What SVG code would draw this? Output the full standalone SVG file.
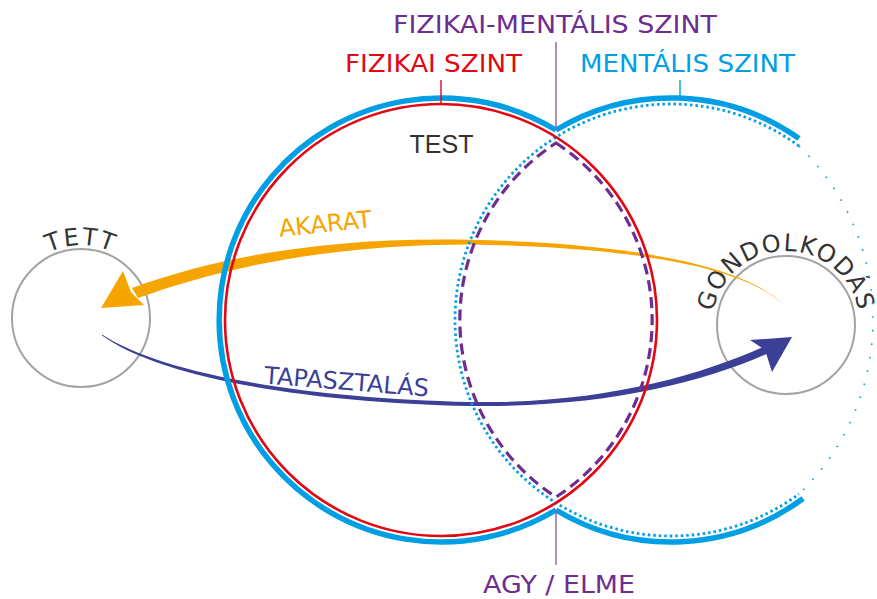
<svg xmlns="http://www.w3.org/2000/svg" width="877" height="599" viewBox="0 0 877 599">
<style>
.lbl{font-family:"DejaVu Sans","Verdana",sans-serif;font-size:25px;}
.small{font-family:"DejaVu Sans","Verdana",sans-serif;font-size:24px;}
.node{fill:none;stroke:#A3A3A3;stroke-width:2;}
.thick{fill:none;stroke:#009FE3;stroke-width:5.5;}
.tick{stroke-width:1.4;}
</style>
<defs>
<path id="tettArc" d="M8,318 A73,73 0 0,1 154,318"/>
<path id="gondArc" d="M712,325 A74,74 0 0,1 860,325"/>
</defs>
<rect width="877" height="599" fill="#ffffff"/>

<g id="tett">
<circle class="node" cx="81" cy="318" r="69"/>
<text class="small" fill="#333333" letter-spacing="2"><textPath href="#tettArc" startOffset="50%" text-anchor="middle">TETT</textPath></text>
</g>

<g id="gondolkodas">
<circle class="node" cx="786" cy="325" r="69"/>
<text class="small" fill="#333333" letter-spacing="1.5"><textPath href="#gondArc" startOffset="50%" text-anchor="middle">GONDOLKODÁS</textPath></text>
</g>

<g id="connectors">
<g id="akarat">
<path fill="#F6A500" d="M790,312 C760,270.5 650,243.5 470,239.8 C330,236.5 218,256.5 132,288 L138,298 C222,267.5 330,244.5 470,244.5 C650,247 760,271.5 790,312 Z"/>
<polygon fill="#F6A500" points="101,308 123,271 131,292 144,305"/>
<text class="small" fill="#F6A500" x="326" y="232" text-anchor="middle" transform="rotate(-6 326 232)">AKARAT</text>
</g>
<g id="tapasztalas">
<path fill="#3B3F95" d="M102,334.5 C160,373 300,398 470,402 C600,404 698,376.5 766.4,345.4 L769.6,352.6 C702,383.5 600,408 470,406 C300,402 160,377 102,335.5 Z"/>
<polygon fill="#3B3F95" points="792,337 750,340 765,350 772,372"/>
<text class="small" fill="#3B3F95" x="346" y="390" text-anchor="middle" transform="rotate(4.5 346 390)">TAPASZTALÁS</text>
</g>
</g>

<g id="mentalis">
<path class="thick" d="M556,130 A222,222 0 0,1 799,138.6"/>
<path class="thick" d="M556,510 A222,222 0 0,0 803,498.5"/>
<path fill="none" stroke="#009FE3" stroke-width="2.8" stroke-dasharray="2.5 3" d="M799,146 A216,216 0 1,0 799,494"/>
<path fill="none" stroke="#009FE3" stroke-width="1.6" stroke-dasharray="1.6 12" d="M799,146 A241.6,241.6 0 0,1 799,494"/>
<line class="tick" x1="680" y1="80" x2="680" y2="98" stroke="#009FE3"/>
<text class="lbl" fill="#009FE3" x="580" y="72" textLength="215" lengthAdjust="spacingAndGlyphs">MENTÁLIS SZINT</text>
</g>

<g id="fizikai">
<path class="thick" d="M556,130 A222,222 0 1,0 556,510"/>
<circle cx="441" cy="320" r="216" fill="none" stroke="#E30613" stroke-width="2.6"/>
<line class="tick" x1="441" y1="80" x2="441" y2="104" stroke="#E30613"/>
<text class="lbl" fill="#E30613" x="345" y="72" textLength="177" lengthAdjust="spacingAndGlyphs">FIZIKAI SZINT</text>
<text font-family="Liberation Sans, Arial, sans-serif" font-size="25" fill="#333333" x="441.5" y="153" text-anchor="middle">TEST</text>
</g>

<g id="agy-elme">
<path fill="none" stroke="#6F2C91" stroke-width="3.2" stroke-dasharray="11 6" d="M556,143 A211,211 0 0,1 556,497 A211,211 0 0,1 556,143 Z"/>
<line class="tick" x1="556" y1="42" x2="556" y2="130" stroke="#8F5FA8"/>
<line class="tick" x1="556" y1="510" x2="556" y2="565" stroke="#8F5FA8"/>
<text class="lbl" fill="#6F2C91" x="393" y="33" textLength="324" lengthAdjust="spacingAndGlyphs">FIZIKAI-MENTÁLIS SZINT</text>
<text class="lbl" fill="#6F2C91" x="483" y="593" textLength="152" lengthAdjust="spacingAndGlyphs">AGY / ELME</text>
</g>
</svg>
